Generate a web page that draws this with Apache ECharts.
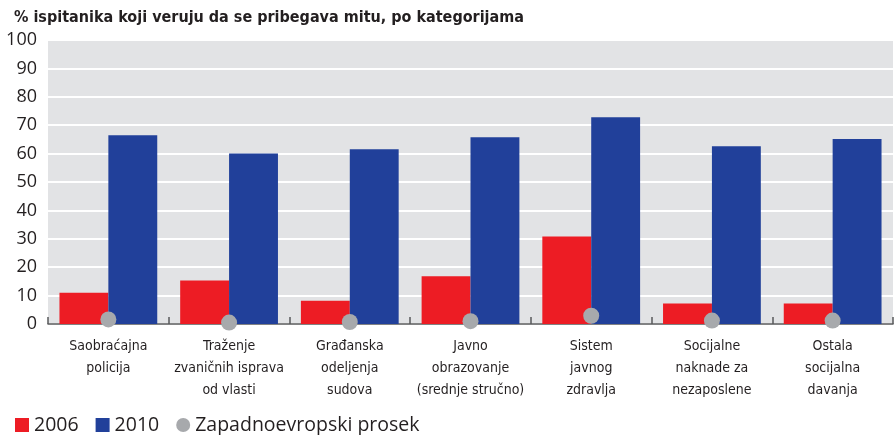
<!DOCTYPE html>
<html>
<head>
<meta charset="utf-8">
<script src="https://cdn.jsdelivr.net/npm/echarts@6/dist/echarts.min.js"></script>
<style>
html,body{margin:0;padding:0;background:#fff;}
#c{width:894px;height:435px;}
</style>
</head>
<body>
<div id="c"></div>
<script>
const titleText = '% ispitanika koji veruju da se pribegava mitu, po kategorijama';
const categories = [
  'Saobraćajna\npolicija',
  'Traženje\nzvaničnih isprava\nod vlasti',
  'Građanska\nodeljenja\nsudova',
  'Javno\nobrazovanje\n(srednje stručno)',
  'Sistem\njavnog\nzdravlja',
  'Socijalne\nnaknade za\nnezaposlene',
  'Ostala\nsocijalna\ndavanja'
];
const seriesNames = ['2006', '2010', 'Zapadnoevropski prosek'];
const values2006 = [11, 15.3, 8.2, 16.8, 30.8, 7.2, 7.2];
const values2010 = [66.5, 60, 61.5, 65.8, 72.8, 62.6, 65.1];
const valuesWestEU = [1.6, 0.5, 0.7, 1.0, 2.9, 1.2, 1.2];
const yMin = 0, yMax = 100, yStep = 10;

const textColor = '#231f20';
const condensed = '"Liberation Sans Narrow","DejaVu Sans Condensed","Roboto",sans-serif';
const regular = '"Open Sans","Noto Sans",sans-serif';

const chart = echarts.init(document.getElementById('c'), null, {renderer: 'canvas'});
chart.setOption({
  animation: false,
  title: {
    text: titleText,
    left: 9, top: 5,
    textStyle: {fontFamily: condensed, fontWeight: 'bold', fontSize: 16, color: textColor}
  },
  legend: {
    left: 10, top: 410,
    itemWidth: 14, itemHeight: 14, itemGap: 17,
    textStyle: {fontFamily: regular, fontSize: 19.5, color: textColor},
    data: [
      {name: seriesNames[0], icon: 'rect'},
      {name: seriesNames[1], icon: 'rect'},
      {name: seriesNames[2], icon: 'circle'}
    ]
  },
  grid: {left: 48, right: 1, top: 40, bottom: 111, show: true, backgroundColor: '#e2e3e5', borderWidth: 0},
  xAxis: {
    type: 'category',
    data: categories,
    axisLine: {show: true, lineStyle: {color: '#58595b', width: 1.5}},
    axisTick: {show: true, inside: true, length: 7, lineStyle: {color: '#58595b', width: 1.5}},
    axisLabel: {interval: 0, margin: 11, fontFamily: condensed, fontSize: 14, lineHeight: 22, color: textColor}
  },
  yAxis: {
    type: 'value',
    min: yMin, max: yMax, interval: yStep,
    axisLine: {show: false},
    axisTick: {show: false},
    axisLabel: {margin: 11, fontFamily: regular, fontSize: 18, color: textColor},
    splitLine: {show: true, lineStyle: {color: '#ffffff', width: 2}}
  },
  series: [
    {name: seriesNames[0], type: 'bar', data: values2006, barGap: 0, barCategoryGap: '19%',
     itemStyle: {color: '#ed1c24'}},
    {name: seriesNames[1], type: 'bar', data: values2010, barGap: 0, barCategoryGap: '19%',
     itemStyle: {color: '#21409a'}},
    {name: seriesNames[2], type: 'scatter', data: valuesWestEU, symbol: 'circle', symbolSize: 16, z: 5,
     itemStyle: {color: '#a7a9ac', opacity: 1}}
  ]
});
</script>
</body>
</html>
